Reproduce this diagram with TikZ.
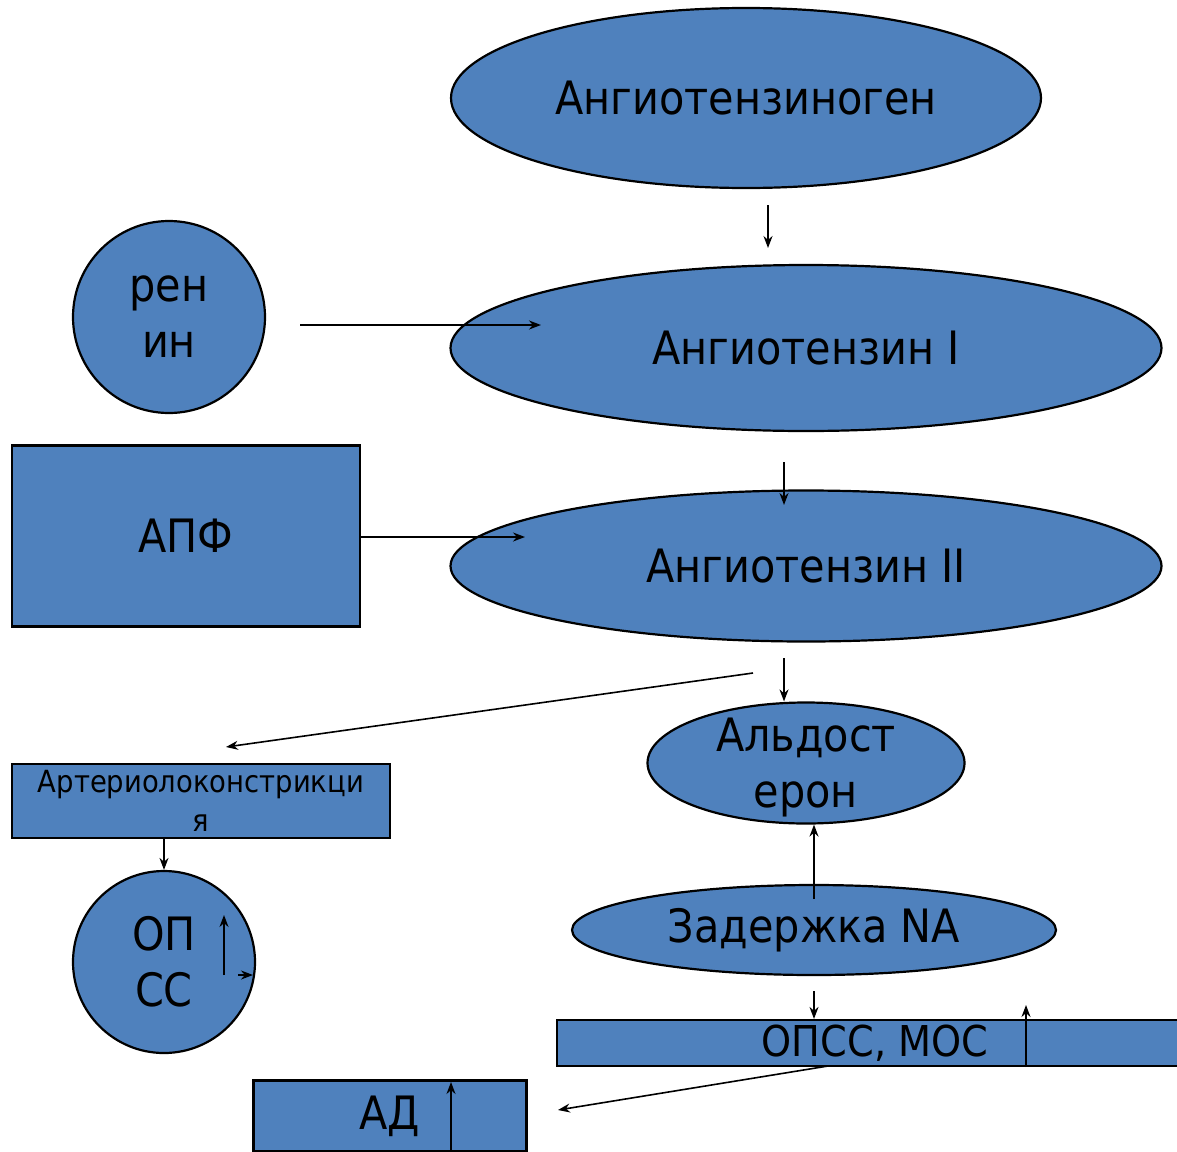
\documentclass[tikz,border=0pt]{standalone}
\usepackage{fontspec}
\setmainfont{DejaVu Sans Condensed}
\usetikzlibrary{positioning,shapes.geometric,arrows.meta}
\definecolor{fillblue}{HTML}{4F81BD}
\tikzstyle{oval} = [ellipse,draw,fill=fillblue,line width=2.2,inner sep=0,align=center]
\tikzstyle{disc} = [circle,draw,fill=fillblue,line width=2.2,inner sep=0,align=center]
\tikzstyle{bordered} = [rectangle,draw,fill=fillblue,line width=2.2,inner sep=0,align=center]
\tikzstyle{arrow} = [-{Stealth[length=12,width=9]},line width=1.6]
\newcommand{\bigtext}{\fontsize{46}{56}\selectfont}

\begin{document}
\begin{tikzpicture}[x=1pt,y=-1pt]
  \useasboundingbox (0,0) rectangle (1177,1151);
  \node [oval,minimum width=590,minimum height=180,font=\bigtext] (v1) at (746,98) {Ангиотензиноген};
  \node [disc,minimum size=192,font=\bigtext] (v2) at (169,317) {рен\\ин};
  \node [oval,minimum width=711,minimum height=166,font=\bigtext] (v3) at (806,348) {Ангиотензин I};
  \node [bordered,minimum width=348,minimum height=181,font=\bigtext] (v4) at (186,536) {АПФ};
  \node [oval,minimum width=711,minimum height=151,font=\bigtext] (v5) at (806,566) {Ангиотензин II};
  \node [oval,minimum width=317,minimum height=121,
         label={[font=\bigtext,align=center,yshift=-5]center:Альдост\\ерон}] (v6) at (806,763) {};
  \node [bordered,minimum width=378,minimum height=74,font=\fontsize{30.5}{39}\selectfont] (v7) at (201,801) {Артериолоконстрикци\\я};
  \node [disc,minimum size=182,font=\bigtext] (v8) at (164,962) {ОП\\СС};
  \node [oval,minimum width=484,minimum height=90,font=\bigtext] (v9) at (814,930) {Задержка NA};
  \node [bordered,minimum width=636,minimum height=46,font=\fontsize{42.5}{46}\selectfont] (v10) at (875,1043) {ОПСС, МОС};
  \node [bordered,minimum width=273,minimum height=71,font=\bigtext] (v11) at (390,1116) {АД};
  % free ends of the arrows
  \coordinate (a1) at (768,205);
  \coordinate (a2) at (768,248);
  \coordinate (b1) at (300,325);
  \coordinate (b2) at (541,325);
  \coordinate (c1) at (784,462);
  \coordinate (c2) at (784,505);
  \coordinate (d1) at (525,537);
  \coordinate (e1) at (753,673);
  \coordinate (e2) at (226,747);
  \coordinate (f1) at (784,658);
  \coordinate (g1) at (224,975);
  \coordinate (g2) at (224,915);
  \coordinate (h1) at (238,975);
  \coordinate (h2) at (253,975);
  \coordinate (k1) at (814,899);
  \coordinate (m1) at (814,991);
  \coordinate (n1) at (1026,1005);
  \coordinate (p1) at (828,1066);
  \coordinate (p2) at (558,1110);
  \coordinate (q1) at (451,1151);
  \coordinate (q2) at (451,1082);
  \draw [arrow] (a1) -- (a2);
  \draw [arrow] (b1) -- (b2);
  \draw [arrow] (c1) -- (c2);
  \draw [arrow] (v4.east |- d1) -- (d1);
  \draw [arrow] (e1) -- (e2);
  \draw [arrow] (f1) -- (v6.north -| f1);
  \draw [arrow] (v7.south -| v8) -- (v8);
  \draw [arrow] (g1) -- (g2);
  \draw [arrow] (h1) -- (h2);
  \draw [arrow] (k1) -- (v6.south -| k1);
  \draw [arrow] (m1) -- (v10.north -| m1);
  \draw [arrow] (v10.south -| n1) -- (n1);
  \draw [arrow] (p1) -- (p2);
  \draw [arrow] (q1) -- (q2);
\end{tikzpicture}
\end{document}
